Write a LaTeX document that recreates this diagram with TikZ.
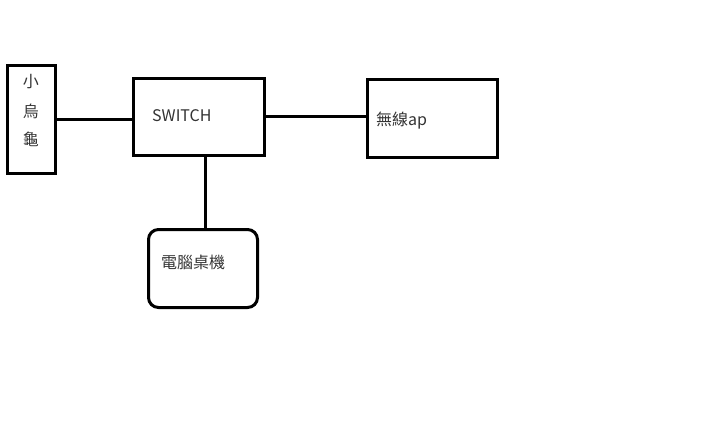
\documentclass[tikz,border=0pt]{standalone}
\usepackage{fontspec}
\newfontfamily\cjk{Noto Sans CJK TC}
\begin{document}
\begin{tikzpicture}[x=1pt,y=-1pt,
  box/.style={draw=black,line width=3pt,inner sep=0pt},
  wire/.style={line width=3pt},
  lbl/.style={font=\cjk\fontsize{16}{19}\selectfont,text=black!80,inner sep=0pt}]
\useasboundingbox[fill=white] (0,0) rectangle (720,429);
\node[box,minimum width=48pt,minimum height=108pt] (turtle) at (31.5,119) {};
\node[box,minimum width=131pt,minimum height=77pt] (sw) at (199,116.5) {};
\node[box,minimum width=130pt,minimum height=78pt] (ap) at (432.5,118.5) {};
\node[box,rounded corners=10pt,minimum width=109pt,minimum height=78pt] (pc) at (203,268.5) {};
\node[lbl] (t1) at (31,82) {小};
\node[lbl] (t2) at (31,111) {烏};
\node[lbl] (t3) at (31,139) {龜};
\node[lbl,anchor=west] (swl) at (152,116) {SWITCH};
\node[lbl,anchor=west] (apl) at (376,121) {無線ap};
\node[lbl,anchor=west] (pcl) at (161,262) {電腦桌機};
\draw[wire] (turtle.east |- 0,119) -- (sw.west |- 0,119);
\draw[wire] (sw.east |- 0,116) -- (ap.west |- 0,116);
\draw[wire] (sw.south -| 205,0) -- (pc.north -| 205,0);
\end{tikzpicture}
\end{document}
